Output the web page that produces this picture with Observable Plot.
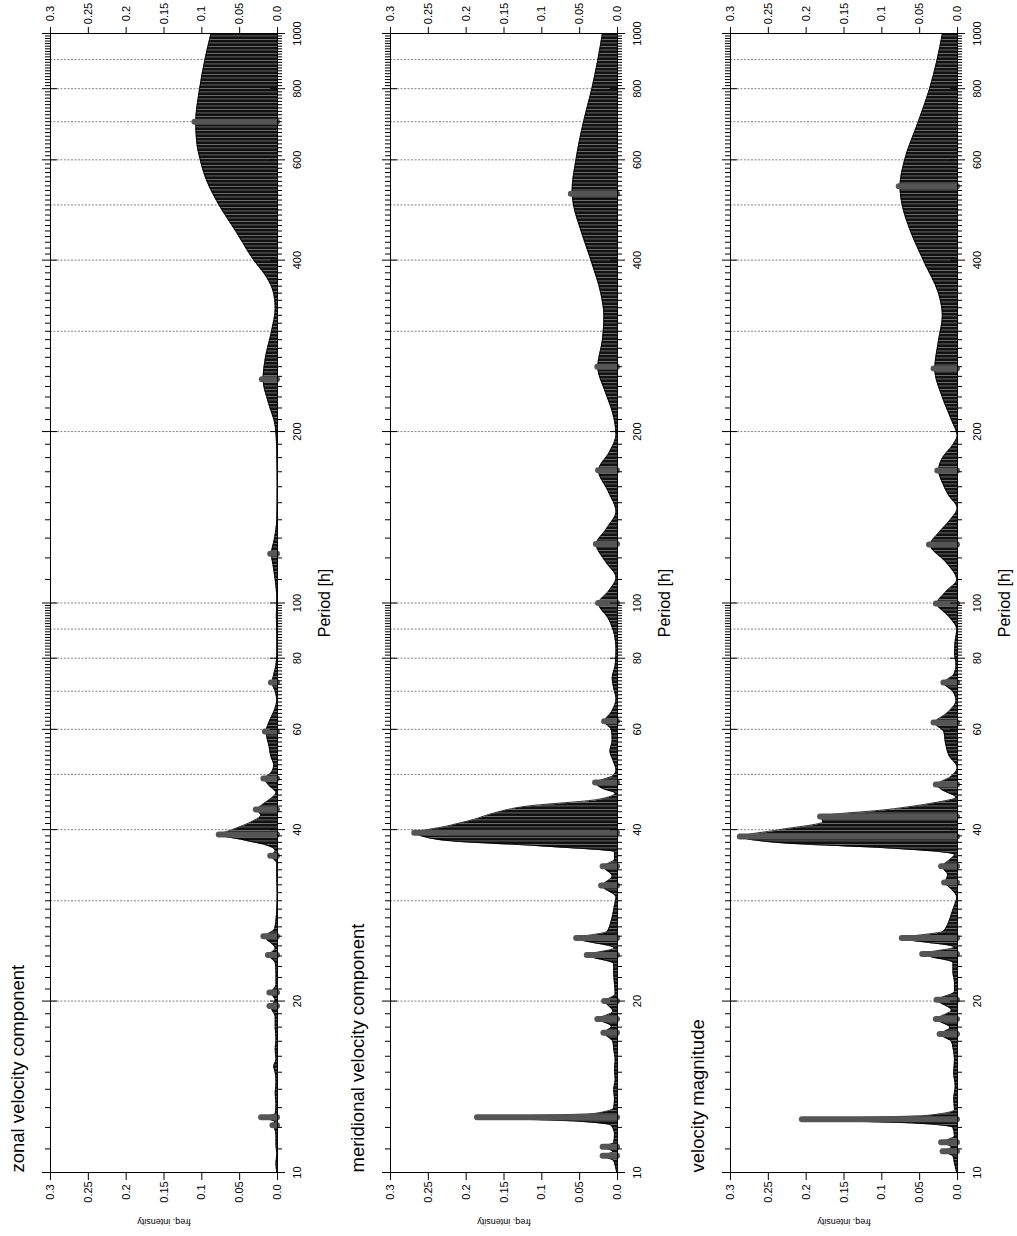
<!DOCTYPE html>
<html>
<head>
<meta charset="utf-8">
<script src="https://cdn.jsdelivr.net/npm/d3@7"></script>
<script src="https://cdn.jsdelivr.net/npm/@observablehq/plot@0.6"></script>
<style>
  html, body { margin: 0; padding: 0; overflow: hidden; background: #fff; width: 1017px; height: 1236px; }
  /* the figure is laid out landscape and turned a quarter turn counter-clockwise */
  #figure {
    position: absolute; left: 0; top: 0; width: 1236px; height: 1017px;
    transform-origin: 0 0; transform: translate(0px, 1236px) rotate(-90deg);
    font-family: "Liberation Sans", Arial, sans-serif; background: #fff;
  }
  #figure svg { display: block; }
</style>
</head>
<body>
<div id="figure"></div>
<script>
// ---- axis definitions ----
const periodLabels = [10, 20, 40, 60, 80, 100, 200, 400, 600, 800, 1000];
const gridPeriods = [20, 30, 40, 50, 60, 70, 80, 90, 100, 200, 300, 400, 500, 600, 700, 800, 900];
const intensityTicks = [0, 0.05, 0.1, 0.15, 0.2, 0.25, 0.3];
const intensityLabels = ["0.0", "0.05", "0.1", "0.15", "0.2", "0.25", "0.3"];
const xLabel = "Period [h]";
const yLabel = "freq. intensity";
const titles = ["zonal velocity component", "meridional velocity component", "velocity magnitude"];

// ---- spectra: [period (h), intensity] ----
const zonalSpectrum = [
  [10,0.001],[10.4,0.002],[10.8,0.001],[11.2,0.002],[11.6,0.002],[12.0,0.004],[12.1,0.006],[12.3,0.004],
  [12.5,0.018],[12.7,0.003],[13.2,0.002],[13.8,0.003],[14.4,0.002],[15.0,0.003],[15.4,0.005],[15.8,0.002],
  [16.5,0.003],[17.2,0.002],[18.0,0.003],[18.8,0.003],[19.6,0.009],[20.1,0.003],[20.7,0.008],[21.4,0.002],
  [22.5,0.002],[23.4,0.003],[24.1,0.011],[24.8,0.003],[26.0,0.016],[26.8,0.004],[27.8,0.002],[29,0.001],
  [31,0.0005],[33,0.001],[35,0.001],[36.0,0.008],[36.8,0.003],[37.5,0.012],[38.4,0.045],[39.2,0.076],
  [40.0,0.06],[41.1,0.038],[42.5,0.022],[43.4,0.027],[44.5,0.018],[45.5,0.008],[46.5,0.002],[48.0,0.012],
  [49.2,0.017],[50.5,0.008],[52,0.005],[54,0.009],[56,0.011],[59.5,0.015],[62,0.011],[65,0.004],
  [67.7,0.001],[70,0.003],[72.5,0.007],[75,0.005],[78,0.002],[82,0.001],[88,0.001],[95,0.0015],
  [102,0.001],[110,0.003],[117,0.006],[122,0.008],[130,0.004],[140,0.001],[160,0.0005],[185,0.001],
  [205,0.003],[225,0.012],[247,0.019],[270,0.016],[300,0.008],[330,0.003],[350,0.005],[375,0.015],
  [400,0.031],[450,0.055],[500,0.077],[550,0.093],[600,0.102],[650,0.107],[700,0.108],[800,0.103],
  [900,0.096],[1000,0.088]
];
const zonalPeaks = [
  [12.1,0.006],[12.5,0.021],[19.6,0.010],[20.7,0.010],[24.1,0.012],[26.0,0.018],[36.0,0.009],
  [39.2,0.077],[43.4,0.028],[49.2,0.018],[59.5,0.016],[72.5,0.008],[122,0.009],[247,0.02],[700,0.109]
];

const meridionalSpectrum = [
  [10,0.001],[10.3,0.003],[10.5,0.005],[10.7,0.018],[10.9,0.006],[11.1,0.018],[11.3,0.005],[11.7,0.004],
  [12.1,0.008],[12.3,0.05],[12.5,0.18],[12.7,0.03],[13.0,0.005],[13.5,0.004],[14.0,0.005],[14.6,0.003],
  [15.2,0.004],[15.8,0.003],[16.5,0.005],[17.0,0.006],[17.6,0.017],[18.1,0.008],[18.6,0.025],[19.2,0.006],
  [20.0,0.016],[20.6,0.003],[21.5,0.004],[22.4,0.005],[23.3,0.005],[24.1,0.039],[24.8,0.004],[25.8,0.053],
  [26.5,0.014],[27.5,0.009],[28.5,0.006],[29.5,0.004],[30.5,0.002],[31.9,0.02],[33.2,0.007],[34.5,0.018],
  [35.5,0.004],[36.6,0.004],[37.4,0.093],[38.4,0.234],[39.5,0.265],[40.6,0.225],[41.7,0.19],[42.8,0.163],
  [44.0,0.119],[45.2,0.026],[46.4,0.003],[47.3,0.02],[48.4,0.028],[49.8,0.006],[51,0.002],[53,0.006],
  [55,0.01],[57.5,0.007],[60,0.008],[62,0.017],[64.5,0.008],[68,0.002],[71,0.005],[74,0.007],[78,0.003],
  [83,0.002],[88,0.004],[94,0.012],[100,0.025],[105,0.012],[111,0.002],[118,0.015],[127,0.028],[135,0.015],
  [145,0.002],[157,0.012],[171,0.025],[185,0.01],[198,0.002],[215,0.006],[235,0.016],[260,0.026],[290,0.02],
  [320,0.018],[350,0.022],[400,0.035],[450,0.048],[500,0.058],[530,0.06],[600,0.055],[700,0.045],
  [800,0.034],[900,0.026],[1000,0.02]
];
const meridionalPeaks = [
  [10.7,0.019],[11.1,0.019],[12.5,0.185],[17.6,0.018],[18.6,0.026],[20.0,0.017],[24.1,0.04],[25.8,0.054],
  [31.9,0.021],[34.5,0.019],[39.5,0.268],[48.4,0.029],[62,0.017],[100,0.025],[127,0.028],[171,0.025],
  [260,0.026],[523,0.061]
];

const magnitudeSpectrum = [
  [10,0.001],[10.4,0.004],[10.7,0.006],[10.9,0.017],[11.1,0.008],[11.3,0.019],[11.6,0.004],[12.0,0.006],
  [12.2,0.05],[12.4,0.2],[12.6,0.04],[12.9,0.004],[13.5,0.005],[14.2,0.003],[15.0,0.005],[15.8,0.004],
  [16.6,0.006],[17.0,0.008],[17.5,0.022],[18.0,0.01],[18.6,0.027],[19.3,0.008],[20.1,0.026],[20.8,0.004],
  [21.6,0.004],[22.5,0.006],[23.4,0.006],[24.2,0.045],[24.9,0.004],[25.8,0.072],[26.5,0.02],[27.5,0.012],
  [28.5,0.008],[29.5,0.004],[30.5,0.001],[31.5,0.008],[32.3,0.016],[33.4,0.013],[34.5,0.02],[35.5,0.01],
  [36.2,0.004],[37.2,0.1],[37.9,0.228],[38.9,0.285],[40.0,0.235],[41.3,0.178],[42.2,0.18],[43.4,0.092],
  [44.6,0.031],[45.6,0.002],[47,0.02],[48,0.027],[49.5,0.01],[51.5,0.0005],[54,0.011],[57,0.016],
  [59.5,0.018],[61.7,0.03],[64,0.015],[67.5,0.002],[70,0.006],[72.5,0.018],[75,0.005],[78,0.002],
  [82,0.004],[86,0.003],[90,0.001],[95,0.012],[99.8,0.027],[105,0.015],[110,0.001],[118,0.015],
  [126.7,0.036],[133,0.025],[140,0.01],[147,0.0005],[155,0.012],[163,0.02],[171,0.025],[180,0.02],
  [190,0.006],[197,0.0005],[210,0.008],[230,0.02],[258,0.03],[290,0.025],[320,0.02],[350,0.025],
  [400,0.045],[450,0.062],[500,0.073],[540,0.076],[600,0.07],[700,0.052],[800,0.037],[900,0.027],[1000,0.02]
];
const magnitudePeaks = [
  [10.9,0.019],[11.3,0.021],[12.4,0.205],[17.5,0.023],[18.6,0.028],[20.1,0.027],[24.2,0.046],[25.8,0.073],
  [32.3,0.017],[34.5,0.021],[38.9,0.287],[42.2,0.181],[48,0.028],[61.7,0.031],[72.5,0.018],[99.8,0.028],
  [126.7,0.037],[170.9,0.026],[258,0.031],[539,0.077]
];

// ---- layout ----
const W = 1236, ML = 63, MR = 34, MT = 50, PH = 227;
const PW = W - ML - MR;
const FONT = '"Liberation Sans", Arial, sans-serif';

// minor period ticks: every hour up to 100 h, every 10 h above
const minorTicks = d3.range(11, 100).concat(d3.range(110, 1000, 10)).filter(d => !periodLabels.includes(d));

function panel(title, spectrum, peaks, idx, height) {
  const fillId = "stems" + idx;
  const svg = Plot.plot({
    width: W, height,
    marginLeft: ML, marginRight: MR, marginTop: MT, marginBottom: height - MT - PH,
    style: {fontFamily: FONT, background: "white", overflow: "visible", color: "#000"},
    x: {type: "log", domain: [10, 1000], axis: null},
    y: {domain: [0, 0.3], axis: null},
    marks: [
      Plot.ruleX(gridPeriods, {stroke: "#666", strokeWidth: 0.8, strokeDasharray: "2,1.5"}),
      Plot.areaY(spectrum, {x: d => d[0], y: d => d[1], fill: `url(#${fillId})`, curve: "monotone-x"}),
      Plot.lineY(spectrum, {x: d => d[0], y: d => d[1], stroke: "#000", strokeWidth: 0.8, curve: "monotone-x"}),
      Plot.ruleX(peaks, {x: d => d[0], y1: 0, y2: d => d[1], stroke: "#555", strokeWidth: 6, strokeLinecap: "round"}),
      Plot.frame({stroke: "#000", strokeWidth: 1}),
      // period ticks on the zero line and on the upper frame line
      Plot.ruleX(minorTicks, {insetTop: PH, insetBottom: -5, stroke: "#000"}),
      Plot.ruleX(periodLabels, {insetTop: PH - 7, insetBottom: -8, stroke: "#000"}),
      Plot.ruleX(minorTicks, {insetBottom: PH, insetTop: -5, stroke: "#000"}),
      Plot.ruleX(periodLabels, {insetBottom: PH - 7, insetTop: -8, stroke: "#000"}),
      Plot.text(periodLabels, {x: d => d, text: d => String(d), frameAnchor: "bottom", lineAnchor: "top",
        textAnchor: "middle", dy: 16, fontSize: 11, fill: "#000"}),
      // intensity ticks on both ends
      Plot.ruleY(intensityTicks, {y: d => d, insetLeft: -7, insetRight: PW, stroke: "#000"}),
      Plot.ruleY(intensityTicks, {y: d => d, insetRight: -7, insetLeft: PW, stroke: "#000"}),
      Plot.text(intensityTicks, {y: d => d, text: (d, i) => intensityLabels[i], frameAnchor: "left",
        textAnchor: "middle", lineAnchor: "middle", dx: -19.5, fontSize: 11, fill: "#000"}),
      Plot.text(intensityTicks, {y: d => d, text: (d, i) => intensityLabels[i], frameAnchor: "right",
        textAnchor: "middle", lineAnchor: "middle", dx: 20, fontSize: 11, fill: "#000"}),
      Plot.text([yLabel], {text: d => d, frameAnchor: "left", rotate: -90, textAnchor: "middle",
        lineAnchor: "bottom", dx: -46, fontSize: 9, fill: "#000"}),
      Plot.text([xLabel], {text: d => d, frameAnchor: "bottom", textAnchor: "middle",
        lineAnchor: "bottom", dy: 52, fontSize: 16, fill: "#000"}),
      Plot.text([title], {text: d => d, frameAnchor: "top-left", textAnchor: "start",
        lineAnchor: "bottom", dy: -27, fontSize: 18.5, fill: "#000"})
    ]
  });
  // hatched fill imitating densely packed spectral stems
  const defs = d3.select(svg).insert("defs", ":first-child");
  const pat = defs.append("pattern").attr("id", fillId).attr("patternUnits", "userSpaceOnUse")
    .attr("width", 3.5).attr("height", 8);
  pat.append("rect").attr("width", 3.5).attr("height", 8).attr("fill", "#111");
  pat.append("rect").attr("x", 2.7).attr("width", 0.8).attr("height", 8).attr("fill", "#7a7a7a");
  return svg;
}

const fig = document.getElementById("figure");
fig.append(panel(titles[0], zonalSpectrum, zonalPeaks, 0, 340));
fig.append(panel(titles[1], meridionalSpectrum, meridionalPeaks, 1, 340));
fig.append(panel(titles[2], magnitudeSpectrum, magnitudePeaks, 2, 337));
</script>
</body>
</html>
